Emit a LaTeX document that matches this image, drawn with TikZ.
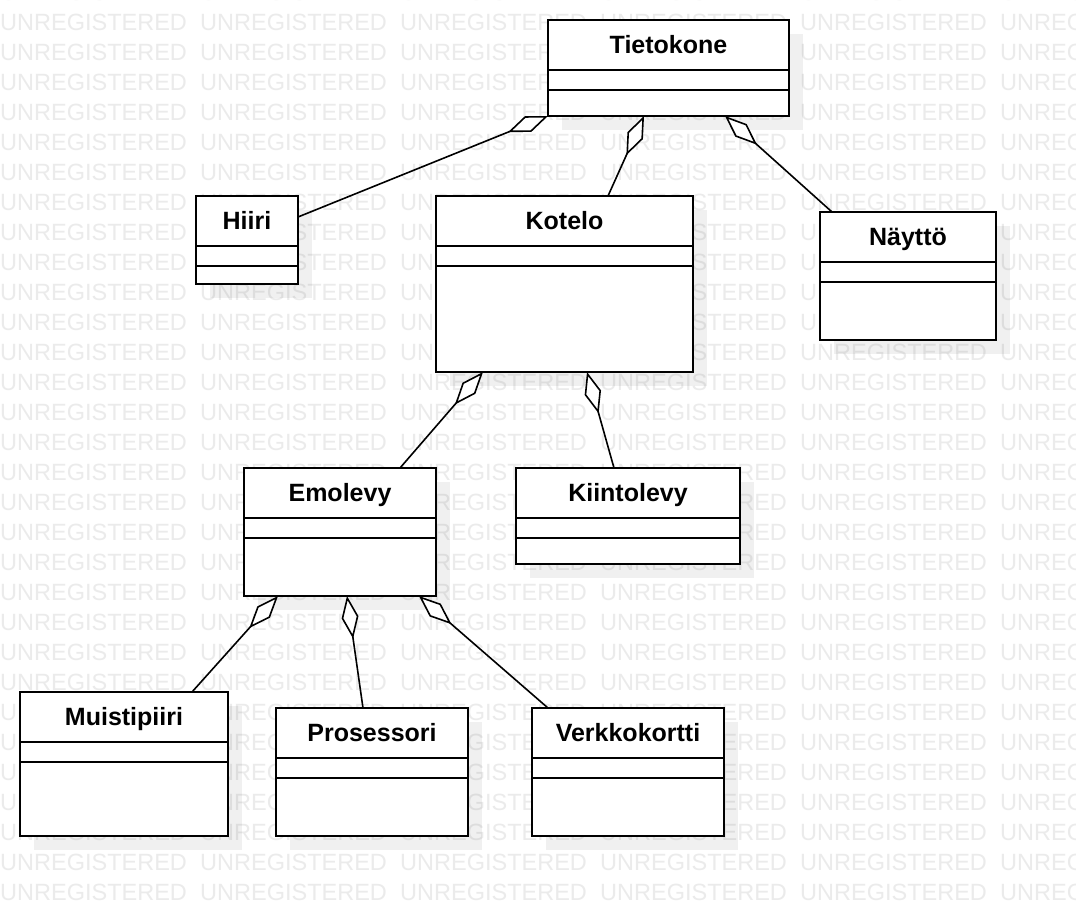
\documentclass[tikz,border=0pt]{standalone}
\usepackage{fontspec}
\setmainfont{Liberation Sans}
\usetikzlibrary{arrows.meta,shadows}

\tikzset{
	watermark/.style={anchor=base west,inner sep=0pt,text=black!8,font=\fontsize{23.5}{28}\selectfont},
	classbox/.style={draw,fill=white,line width=2pt,inner sep=0pt,outer sep=0pt,anchor=north west,
		drop shadow={shadow xshift=14pt,shadow yshift=-14pt,fill=black,opacity=0.06}},
	classtitle/.style={anchor=base,inner sep=0pt,font=\fontsize{25}{30}\selectfont\bfseries},
	aggr/.style={line width=1.6pt,-{Diamond[fill=white,length=43pt,width=17pt]}},
}

% class box: name, x, y, width, height, title
\newcommand{\umlclass}[6]{
	\node[classbox,minimum width=#4pt,minimum height=#5pt] (#1) at (#2,#3) {};
	\node[classtitle] (#1-title) at ([yshift=-33pt]#1.north) {#6};
	\draw[line width=2pt] ([yshift=-50pt]#1.north west) -- ([yshift=-50pt]#1.north east); % attributes
	\draw[line width=2pt] ([yshift=-70pt]#1.north west) -- ([yshift=-70pt]#1.north east); % operations
}

\begin{document}
\begin{tikzpicture}[x=1pt,y=-1pt]
	\useasboundingbox[fill=white] (0,0) rectangle (1076,916);

	% watermark
	\foreach \r in {0,...,30}
		\foreach \c in {0,...,5}
			\node[watermark] (wm-\r-\c) at (200*\c,30*\r) {UNREGISTERED};

	\umlclass{tk}{548}{20}{241}{96}{Tietokone} % computer
	\umlclass{hi}{196}{196}{102}{88}{Hiiri} % mouse
	\umlclass{ko}{436}{196}{257}{176}{Kotelo} % case
	\umlclass{na}{820}{212}{176}{128}{Näyttö} % display
	\umlclass{em}{244}{468}{192}{128}{Emolevy} % motherboard
	\umlclass{ki}{516}{468}{224}{96}{Kiintolevy} % hard disk
	\umlclass{mu}{20}{692}{208}{144}{Muistipiiri} % memory
	\umlclass{pr}{276}{708}{192}{128}{Prosessori} % processor
	\umlclass{ve}{532}{708}{192}{128}{Verkkokortti} % network card

	\draw[aggr] ([yshift=-21pt]hi.north east) -- (tk.south west);
	\draw[aggr] ([xshift=172pt]ko.north west) -- ([xshift=96pt]tk.south west);
	\draw[aggr] ([xshift=12pt]na.north west) -- ([xshift=177pt]tk.south west);

	\draw[aggr] ([xshift=156pt]em.north west) -- ([xshift=47pt]ko.south west);
	\draw[aggr] ([xshift=98pt]ki.north west) -- ([xshift=151pt]ko.south west);

	\draw[aggr] ([xshift=172pt]mu.north west) -- ([xshift=34pt]em.south west);
	\draw[aggr] ([xshift=87pt]pr.north west) -- ([xshift=103pt]em.south west);
	\draw[aggr] ([xshift=16pt]ve.north west) -- ([xshift=175pt]em.south west);
\end{tikzpicture}
\end{document}
